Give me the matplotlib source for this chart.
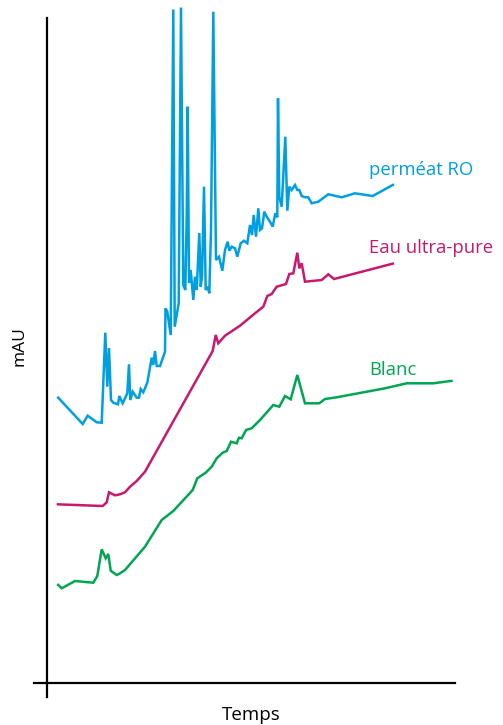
import matplotlib
matplotlib.use("Agg")
import matplotlib.pyplot as plt

# Chromatogram traces (time units, absorbance units)
ro_t = [57.3, 82.7, 87.7, 96.7, 101.7, 105.3, 107.3, 109, 111, 113.3, 118, 119.3, 122.7,
        127.3, 129, 130.3, 132.7, 136.7, 139, 140.7, 143.3, 147.3, 151.7, 153.3, 155,
        156.7, 160, 165, 165.5, 167.3, 170.7, 173.3, 174.7, 178.7, 181, 183.3, 185.3,
        186.7, 187.7, 189, 190.7, 193.3, 195, 196.7, 199.3, 200.7, 202, 204, 205.7,
        207.7, 209.3, 211, 213.3, 216, 219, 222.3, 225, 227.7, 229.3, 231.7, 235, 237.3,
        240.7, 244, 247.3, 250, 252, 253.7, 256, 258.3, 260, 262, 264.3, 266.7, 270,
        272.7, 275.3, 277.3, 278, 279.3, 281.7, 285.3, 287.3, 289.3, 291.7, 295, 297.3,
        299.3, 301.7, 305, 308.3, 311.7, 318.3, 328.3, 341.7, 355, 372.7, 394]
ro_a = [328.3, 301, 309.3, 302.7, 302.3, 392.3, 338.3, 377, 325, 322.3, 320.7, 329,
        321.7, 331.7, 360.7, 325, 333.3, 327.3, 327.3, 336, 332.7, 342.3, 367.3, 360,
        374, 359, 359, 373.3, 416.7, 413.3, 390, 715.5, 398.3, 421.7, 717.5, 440, 435,
        507, 618.3, 442, 455, 425, 448.3, 435, 492, 438.3, 448.3, 538.3, 435, 438.3,
        431.7, 495, 713.3, 465, 468.3, 454.3, 475, 483.3, 474.3, 478.3, 476.7, 468.3,
        481.7, 484.3, 481.7, 500, 490, 510, 488.3, 516.7, 495, 496.7, 513.3, 508.3,
        503.3, 498.3, 511.7, 507.7, 626.7, 528.3, 518.3, 588.3, 514.3, 538.3, 535, 540,
        535, 535, 529, 527.7, 527.7, 521.7, 523.3, 530.7, 527.7, 531.7, 529, 540.7]

up_t = [56.7, 102.7, 106.7, 109, 115, 120, 125, 130, 136.7, 145, 212.7, 215.7, 218.3,
        225, 240, 255, 263.3, 267.3, 271.7, 276.7, 286, 289.3, 293.3, 297.3, 299.3,
        301.7, 305, 321.7, 328.3, 334, 394]
up_a = [220.7, 219, 222.7, 232.7, 229.7, 230.7, 232.7, 238.3, 244, 253.3, 374, 390,
        381.7, 389.3, 399.3, 411.7, 418.3, 429, 431, 438.3, 441, 451, 451.7, 472.3,
        456.7, 461.7, 443.3, 445, 450.7, 446, 461.7]

bl_t = [57.3, 61.7, 75, 93.3, 97.3, 101.7, 105.7, 108.3, 110.7, 116.7, 120, 125, 145,
        161.7, 173.3, 192.7, 197.3, 205.7, 211.7, 216.7, 222.7, 226.7, 231, 236.7, 239,
        241.7, 246, 251.7, 260, 273.3, 279.3, 285, 290.7, 297.3, 305, 319.3, 325, 336.7,
        385, 406.7, 433.3, 452.7]
bl_a = [141, 136.7, 144, 142.3, 149, 175.7, 166.7, 171, 154.3, 150, 151.7, 155, 178.3,
        205, 214, 235, 246.7, 252.3, 258.3, 266.7, 272.3, 274, 283.3, 281.7, 287.3,
        286.7, 295, 296.7, 305, 320, 318.3, 329, 325.7, 350, 321.7, 321.7, 326, 327.7,
        336.7, 341.7, 341.7, 344.3]

names = ["perméat RO", "Eau ultra-pure", "Blanc"]
colors = ["#009FDF", "#C8196E", "#00A651"]
label_pos = [(369, 550), (369, 471.7), (369, 350)]

fig = plt.figure(figsize=(5.03, 7.25), dpi=100)
ax = fig.add_axes([0, 0, 1, 1])
ax.set_xlim(0, 503)
ax.set_ylim(0, 725)

for (t, a), c in zip([(ro_t, ro_a), (up_t, up_a), (bl_t, bl_a)], colors):
    ax.plot(t, a, color=c, lw=1.8, solid_joinstyle="miter", solid_capstyle="butt")

for name, c, (x, y) in zip(names, colors, label_pos):
    ax.text(x, y, name, color=c, fontsize=13.3, family="Open Sans",
            ha="left", va="baseline")

# Crossed axes
for s in ("top", "right"):
    ax.spines[s].set_visible(False)
ax.spines["left"].set_position(("data", 47))
ax.spines["left"].set_bounds(28, 707)
ax.spines["bottom"].set_position(("data", 42))
ax.spines["bottom"].set_bounds(34, 455)
for s in ("left", "bottom"):
    ax.spines[s].set_linewidth(1.6)
ax.set_xticks([])
ax.set_yticks([])
ax.patch.set_alpha(0)

ax.text(251.3, 5, "Temps", fontsize=13.5, family="Open Sans", ha="center",
        va="baseline")
ax.text(19.5, 379, "mAU", fontsize=12.5, family="Open Sans", ha="center",
        va="center", rotation=90)

fig.savefig("out.png", dpi=100)
